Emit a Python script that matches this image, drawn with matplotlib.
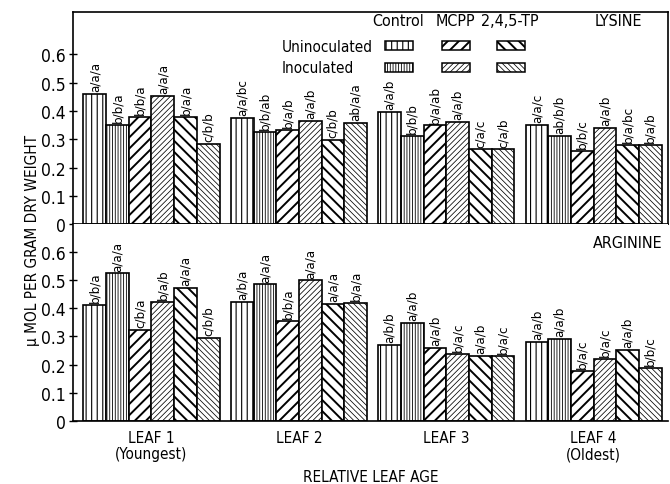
import matplotlib
matplotlib.use("Agg")
import matplotlib.pyplot as plt
from matplotlib.patches import Rectangle

plt.rcParams['font.family'] = ['DejaVu Sans']
plt.rcParams['font.stretch'] = 'condensed'

leaves = ["LEAF 1\n(Youngest)", "LEAF 2", "LEAF 3", "LEAF 4\n(Oldest)"]
series = ["Control uninoculated", "Control inoculated", "MCPP uninoculated",
          "MCPP inoculated", "2,4,5-TP uninoculated", "2,4,5-TP inoculated"]

lysine = [
    [0.46, 0.351, 0.38, 0.453, 0.38, 0.284],
    [0.375, 0.325, 0.334, 0.366, 0.299, 0.358],
    [0.396, 0.313, 0.349, 0.361, 0.264, 0.264],
    [0.351, 0.313, 0.26, 0.339, 0.281, 0.281],
]
lysine_letters = [
    ["a/a/a", "b/b/a", "b/b/a", "a/a/a", "b/a/a", "c/b/b"],
    ["a/a/bc", "b/b/ab", "b/a/b", "a/a/b", "c/b/b", "ab/a/a"],
    ["a/a/b", "b/b/b", "b/a/ab", "a/a/b", "c/a/c", "c/a/b"],
    ["a/a/c", "ab/b/b", "b/b/c", "a/a/b", "b/a/bc", "b/a/b"],
]
arginine = [
    [0.411, 0.524, 0.324, 0.423, 0.473, 0.294],
    [0.423, 0.485, 0.354, 0.499, 0.417, 0.418],
    [0.27, 0.349, 0.26, 0.238, 0.23, 0.23],
    [0.28, 0.292, 0.176, 0.22, 0.252, 0.188],
]
arginine_letters = [
    ["b/b/a", "a/a/a", "c/b/a", "b/a/b", "a/a/a", "c/b/b"],
    ["a/b/a", "a/a/a", "b/b/a", "a/a/a", "a/a/a", "b/a/a"],
    ["a/b/b", "a/a/b", "a/a/b", "b/a/c", "a/a/b", "b/a/c"],
    ["a/a/b", "a/a/b", "b/a/c", "b/a/c", "a/a/b", "b/b/c"],
]
yticks = [0, 0.1, 0.2, 0.3, 0.4, 0.5, 0.6]
yticklabels = ["0", "0.1", "0.2", "0.3", "0.4", "0.5", "0.6"]

hatches = ["|||", "||||||", "///", "//////", "\\\\\\", "\\\\\\\\\\\\"]
hatch_lw = [0.8, 0.6, 1.4, 0.55, 1.4, 0.55]

STRIDE = 6.5

fig = plt.figure(figsize=(6.7, 4.85), dpi=100)
ax_top = fig.add_axes([0.109, 0.536, 0.888, 0.437])
ax_bot = fig.add_axes([0.109, 0.1305, 0.888, 0.4056])


def make_bar(ax, x, h, k):
    with plt.rc_context({'hatch.linewidth': hatch_lw[k]}):
        b = ax.bar(x, h, width=1.0, align='edge', facecolor='white',
                   edgecolor='black', linewidth=1.2, hatch=hatches[k])
        for p in b:
            if hasattr(p, 'set_hatch_linewidth'):
                p.set_hatch_linewidth(hatch_lw[k])
    return b


def panel(ax, vals, letters, ymax):
    for i in range(len(vals)):
        for j in range(6):
            x = i * STRIDE + j
            make_bar(ax, x, vals[i][j], j)
            ax.text(x + 0.5, vals[i][j] + 0.01, letters[i][j], rotation=90,
                    ha='center', va='bottom', fontsize=9.5)
    ax.set_xlim(-0.46, 3 * STRIDE + 6 + 0.28)
    ax.set_ylim(0, ymax)
    ax.set_yticks(yticks)
    ax.set_yticklabels(yticklabels, fontsize=12.5)
    ax.tick_params(axis='y', direction='inout', length=6, width=1, pad=2)
    for s in ax.spines.values():
        s.set_linewidth(1.2)


panel(ax_top, lysine, lysine_letters, 0.75)
panel(ax_bot, arginine, arginine_letters, 0.70)

ax_top.set_xticks([])
ax_bot.spines['right'].set_visible(False)
ax_bot.spines['top'].set_visible(False)
ax_bot.set_xticks([i * STRIDE + 3 for i in range(4)])
ax_bot.set_xticklabels(leaves, fontsize=11, linespacing=1.05)
ax_bot.tick_params(axis='x', length=0, pad=7)
ax_bot.set_xlabel("RELATIVE LEAF AGE", fontsize=11, labelpad=6)

fig.text(0.048, 0.505, "\u00b5 MOL PER GRAM DRY WEIGHT", rotation=90,
         ha='center', va='center', fontsize=11)

# legend
for txt, xc in [("Control", 0.546), ("MCPP", 0.642), ("2,4,5-TP", 0.734)]:
    ax_top.text(xc, 0.958, txt, transform=ax_top.transAxes, ha='center',
                va='center', fontsize=11.5)
ax_top.text(0.916, 0.958, "LYSINE", transform=ax_top.transAxes, ha='center',
            va='center', fontsize=11.5)
ax_top.text(0.351, 0.84, "Uninoculated", transform=ax_top.transAxes,
            ha='left', va='center', fontsize=11)
ax_top.text(0.351, 0.74, "Inoculated", transform=ax_top.transAxes,
            ha='left', va='center', fontsize=11)
sw_x = [0.524, 0.620, 0.713]
sw_y = [0.819, 0.718]
for c in range(3):
    for r in range(2):
        k = c * 2 + r
        with plt.rc_context({'hatch.linewidth': hatch_lw[k]}):
            rect = Rectangle((sw_x[c], sw_y[r]), 0.0466, 0.043,
                             transform=ax_top.transAxes, facecolor='white',
                             edgecolor='black', linewidth=1.1, hatch=hatches[k])
            if hasattr(rect, 'set_hatch_linewidth'):
                rect.set_hatch_linewidth(hatch_lw[k])
        ax_top.add_patch(rect)

ax_bot.text(0.933, 0.908, "ARGININE", transform=ax_bot.transAxes, ha='center',
            va='center', fontsize=11.5)

fig.savefig("out.png", dpi=100)
